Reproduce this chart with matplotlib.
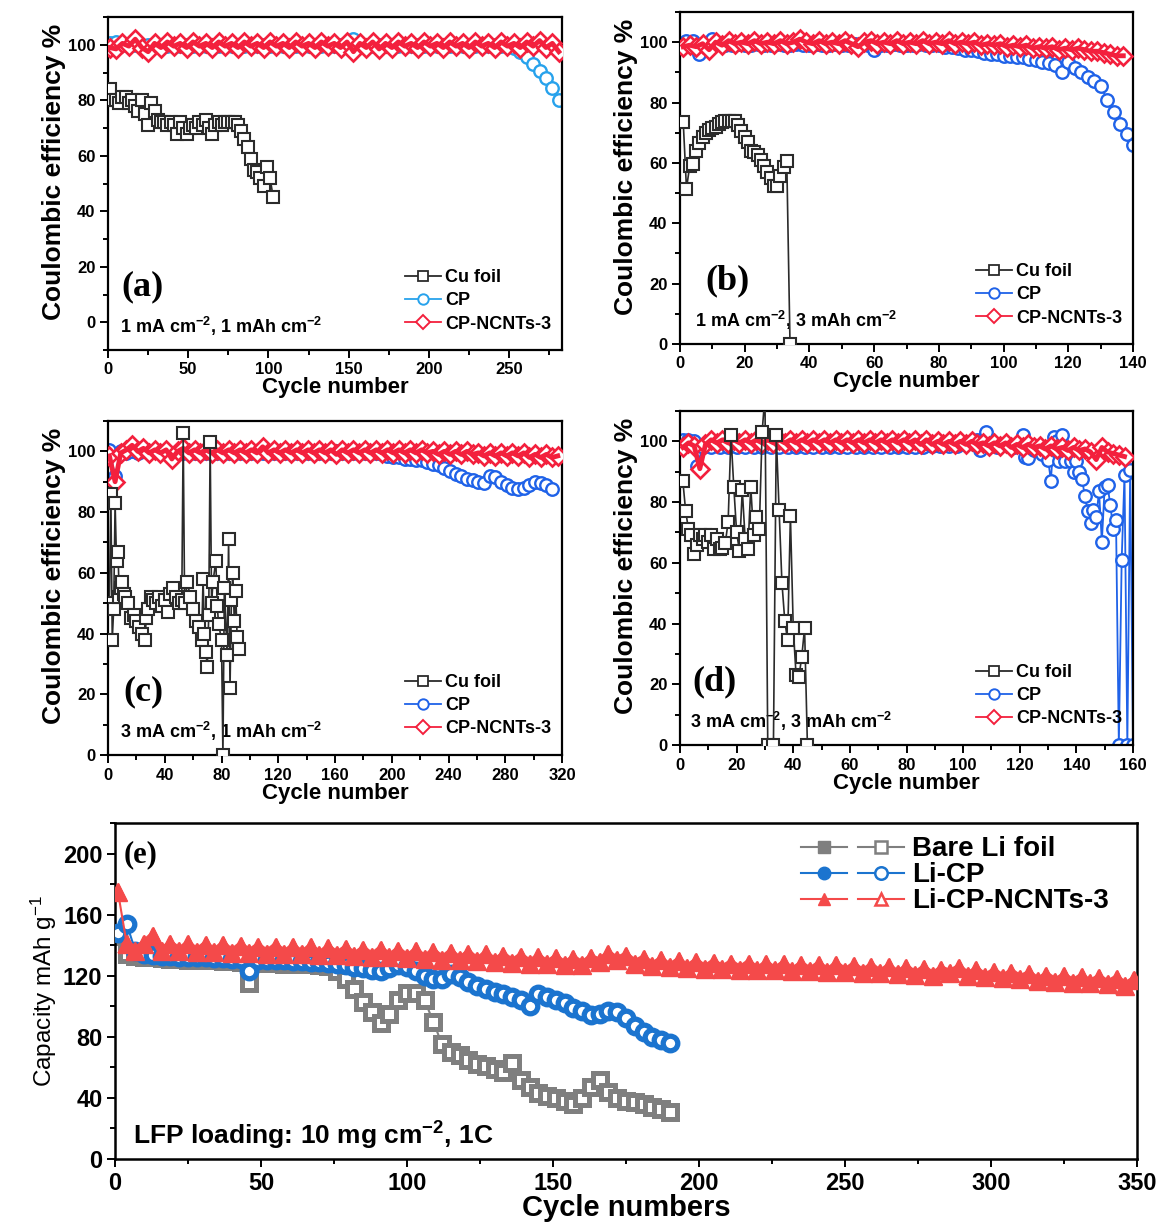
import matplotlib
matplotlib.use("Agg")
import matplotlib.pyplot as plt
import numpy as np
from matplotlib.lines import Line2D
from matplotlib.legend_handler import HandlerTuple
from matplotlib.ticker import MultipleLocator

plt.rcParams['font.family'] = ['Liberation Sans', 'DejaVu Sans']
plt.rcParams['font.weight'] = 'bold'
plt.rcParams['mathtext.fontset'] = 'custom'
plt.rcParams['mathtext.rm'] = 'Liberation Sans:bold'
plt.rcParams['mathtext.bf'] = 'Liberation Sans:bold'
plt.rcParams['mathtext.it'] = 'Liberation Sans:bold'
plt.rcParams['mathtext.default'] = 'regular'

# ---------------- (a) 1 mA cm-2, 1 mAh cm-2 ----------------
cu_a_x = np.arange(1, 104, 2)
cu_a = [84, 80, 80, 79, 81, 81, 79, 80, 78, 76, 80, 75, 71, 79, 76, 73, 72, 72, 71, 72,
        71, 68, 72, 70, 68, 70, 71, 70, 72, 71, 73, 70, 68, 71, 72, 71, 72, 72, 72, 72,
        71, 69, 66, 63, 59, 55, 54, 52, 49, 56, 52, 45]
cp_a_x = np.arange(1, 282, 4)
cp_a = [100.5, 101, 100, 99.5, 100, 99.5, 100, 99.5, 100, 99.5,
        100, 99.5, 100, 99.5, 100, 99.5, 100, 99.5, 100, 99.5,
        100, 99.5, 100, 99.5, 100, 99.5, 100, 99.5, 100, 99.5,
        100, 99.5, 100, 99.5, 100, 99.5, 100, 99.5, 102, 99.5,
        100, 99.5, 100, 99.5, 100, 99.5, 100, 99.5, 100, 99.5,
        100, 99.5, 100, 99.5, 100, 99.5, 100, 99.5, 100, 99.5,
        100, 99.5, 100, 99, 97.5, 95.5, 93, 90.5, 88, 84.5, 80]
nc_a_x = np.arange(1, 282, 4)
nc_a = [99, 98.5, 100.5, 99.5, 102, 99, 97.5, 100.5, 99, 101,
        99.5, 100.5, 99, 101, 99.5, 100.5, 99, 101, 99.5, 100.5,
        99, 101, 99.5, 100.5, 99, 101, 99.5, 100.5, 99, 101,
        99.5, 100.5, 99, 101, 99.5, 100.5, 99, 101, 97.5, 100.5,
        99, 101, 98.5, 100.5, 99, 101, 99.5, 100.5, 99, 101,
        99.5, 100.5, 99, 101, 99.5, 100.5, 99, 101, 99.5, 100.5,
        99, 101, 99.5, 100.5, 99, 101, 99.5, 101.5, 99, 100.5, 97.5]

# ---------------- (b) 1 mA cm-2, 3 mAh cm-2 ----------------
cu_b_x = np.arange(1, 35)
cu_b = [73.5, 51.5, 59, 59.5, 64, 66.5, 68.5, 70, 71, 71.5,
        72, 73, 73.5, 74, 74, 74, 74, 72.5, 70.5, 68.5,
        67, 64, 63.5, 62.5, 61, 59, 57, 55, 52.5, 52.5,
        55.5, 58.5, 60.5, 0]
cp_b_x = np.arange(2, 141, 2)
cp_b = [100.5, 100.5, 96, 99, 101, 99.5, 99, 99, 99.5, 99,
        99, 99.5, 99, 99, 99.5, 99, 99, 99.5, 99, 99,
        99.5, 99, 99, 99.5, 99, 99, 99.5, 99, 99, 97.5,
        99, 99, 99.5, 99, 99, 99, 99.5, 99, 99, 99,
        98.5, 98.5, 98, 97.5, 97.5, 97, 96.5, 96, 96, 95.5,
        95.5, 95, 95, 94.5, 94, 93.5, 93, 92.5, 90, 93.5,
        91.5, 90, 88.5, 87, 85.5, 81, 77, 73, 69.5, 66]
nc_b_x = np.arange(1, 138, 2)
nc_b = [98.5, 99, 98.5, 99.5, 97.5, 100, 99, 100.5, 99.5, 100,
        99.5, 100.5, 99.5, 100, 99.5, 100.5, 99.5, 100, 101, 100,
        99.5, 100.5, 99.5, 100, 99.5, 100.5, 99.5, 98.5, 100, 100.5,
        99.5, 100, 99.5, 100.5, 99.5, 100, 99.5, 100.5, 99.5, 100,
        99.5, 100.5, 99.5, 100, 99.5, 100, 99, 99.5, 99, 99.5,
        98.5, 99, 98.5, 99, 98, 98.5, 98, 98.5, 97.5, 98,
        97.5, 98, 97.5, 97, 97, 96.5, 96, 95.5, 95.5]

# ---------------- (c) 3 mA cm-2, 1 mAh cm-2 ----------------
cu_c_x = [1, 2, 3, 4, 5, 6, 7, 8, 9, 10, 11, 12, 14, 16, 18, 20, 22, 24, 26, 27,
          28, 30, 32, 34, 36, 38, 40, 42, 44, 46, 48, 50, 52, 53, 54, 56, 58, 60, 62, 64,
          66, 67, 68, 69, 70, 71, 72, 73, 74, 76, 77, 78, 80, 81, 82, 84, 85, 86, 87, 88,
          89, 90, 91, 92]
cu_c = [50, 86, 38, 48, 83, 64, 67, 52, 55, 57, 53, 52, 50, 45, 46, 44, 42, 40, 38, 45,
        48, 52, 51, 50, 52, 49, 51, 47, 53, 55, 52, 50, 51, 106, 50, 57, 52, 48, 44, 42,
        38, 58, 40, 34, 29, 46, 103, 50, 57, 64, 49, 43, 38, 0, 55, 33, 71, 22, 51, 60,
        44, 54, 39, 35]
cp_c_x = np.arange(1, 314, 4)
cp_c = [100.5, 92, 100, 99.5, 100, 99.5, 100, 99.5, 100, 99.5,
        100, 99.5, 100, 99.5, 100, 99.5, 100, 99.5, 100, 99.5,
        100, 99.5, 100, 99.5, 100, 99.5, 100, 99.5, 100, 99.5,
        100, 99.5, 100, 99.5, 100, 99.5, 100, 99.5, 100, 99.5,
        100, 99.5, 100, 99.5, 100, 99.5, 100, 99.5,
        99, 98.5, 98, 98, 97.5, 97.5, 97, 97, 96.5, 96, 95.5, 94.5, 93.5, 92.5, 92, 91,
        90.5, 90, 89.5, 92, 91.5, 90, 89, 88, 87.5, 88, 89, 90, 89.5, 89, 87.5]
nc_c_x = np.arange(1, 318, 4)
nc_c = [98.5, 90, 99.5, 100.5, 102, 100, 101, 99.5, 100.5, 99.5,
        100.5, 97.5, 100, 101, 99.5, 100.5, 99.5, 100.5, 99.5, 100.5,
        99.5, 100.5, 99.5, 100.5, 99.5, 100.5, 99.5, 101.5, 99.5, 100.5,
        99.5, 100.5, 99.5, 100.5, 99.5, 100.5, 99.5, 100.5, 99.5, 100.5,
        99, 100.5, 99.5, 100.5, 99.5, 100.5, 99.5, 100.5, 99.5, 100.5,
        99.5, 100.5, 99.5, 100.5, 99.5, 100.5, 99.5, 100, 99, 100,
        99, 100, 99, 100, 99, 99.5, 98.5, 99.5, 98.5, 99.5,
        98.5, 99.5, 98.5, 99.5, 98, 99, 98, 99, 98, 98.5]

# ---------------- (d) 3 mA cm-2, 3 mAh cm-2 ----------------
cu_d_x = [1, 2, 3, 4, 5, 6, 7, 8, 9, 10, 11, 12, 13, 14, 15, 16, 17, 18, 19, 20,
          21, 22, 23, 24, 25, 26, 27, 28, 29, 30, 31, 33, 34, 35, 36, 37, 38, 39, 40, 41,
          42, 43, 44, 45]
cu_d = [87, 77, 71, 69, 63, 66, 69, 68, 69, 67, 69, 64.5, 68, 64.5, 65, 66.5, 73.5, 102, 85, 70,
        64, 84, 68, 64.5, 85, 69, 75, 71, 103, 115, 0, 0, 102, 77.5, 53.5, 41, 34.5, 75.5, 38.5, 23,
        22.5, 29, 38.5, 0]
cp_d_x = [1, 3, 5, 6, 8, 11, 14, 17, 20, 23,
          26, 29, 32, 35, 38, 41, 44, 47, 50, 53,
          56, 59, 62, 65, 68, 71, 74, 77, 80, 83,
          86, 89, 92, 95, 98, 101, 104, 105, 106, 108,
          110, 112, 115, 118, 121, 122, 123, 125, 128, 130,
          131, 132, 133, 134, 135, 136, 138, 139, 140, 141,
          142, 143, 144, 145, 146, 147, 148, 149, 150, 151,
          152, 153, 154, 155, 156, 157, 158, 159, 160]
cp_d = [100.5, 100.5, 100, 92, 98, 98, 98, 98, 98, 98,
        98, 98, 98, 98, 98, 98, 98, 98, 98, 98,
        98, 98, 98, 98, 98, 98, 98, 98, 98, 98,
        98, 98.5, 98.5, 98.5, 98.5, 99, 99, 100.5, 97, 103,
        99, 98, 99, 98, 102, 95, 94.5, 97, 96, 94,
        87, 101.5, 100, 93.5, 102, 93.5, 93.5, 90, 93.5, 90,
        87.5, 82, 77, 73, 77.5, 75, 83.5, 67, 85, 85.5,
        79, 71, 74, 0, 61, 89, 0, 90.5, 0]
nc_d_x = np.arange(1, 158, 2)
nc_d = [98, 99.5, 98.5, 91, 99, 100.5, 99.5, 100.5, 99.5, 100.5,
        99.5, 100.5, 99.5, 100.5, 99.5, 100.5, 99.5, 100.5, 99.5, 100.5,
        99.5, 100.5, 99.5, 100.5, 99.5, 100.5, 99.5, 100.5, 99.5, 100.5,
        99.5, 100.5, 99.5, 100.5, 99.5, 100.5, 99.5, 100.5, 99.5, 100.5,
        99.5, 100.5, 99, 100.5, 99, 100, 99, 100, 99, 100,
        99, 100, 99, 99.5, 98.5, 99.5, 98.5, 99.5, 98, 99,
        98, 99, 98, 98.5, 97.5, 98.5, 97.5, 98, 97, 98,
        97, 97.5, 96.5, 94, 98, 96.5, 96, 95.5, 95]

# ---------------- (e) full cells, LFP 10 mg cm-2, 1C ----------------
bare_x = np.arange(1, 191, 3)
bare = [146, 134, 133, 132, 132, 131.5, 131, 131, 130.5, 130.5,
        130, 130, 129.5, 129.5, 129, 115, 129, 128.5, 128.5, 128,
        128, 127.5, 127.5, 127, 126.5, 123, 118, 111, 103, 96,
        89, 95, 104, 109, 109, 104, 90, 75, 70, 68,
        65, 62, 61, 59, 57, 63, 52, 47, 43, 41,
        40, 38, 36, 40, 47, 52, 44, 40, 38, 37,
        36, 34, 33, 31]
licp_x = np.arange(1, 191, 3)
licp = [148, 154, 136, 134, 133.5, 133, 133, 132.5, 132.5, 132,
        132, 131.5, 131.5, 131, 131, 123, 130.5, 130.5, 130, 130,
        129.5, 129.5, 129, 129, 128.5, 128, 127, 126, 125, 123.5,
        123, 125, 127, 126, 123, 120, 118, 118, 121, 119,
        116, 113, 111, 109.5, 108, 106, 104, 100, 108, 106,
        104, 102, 99, 97, 94.5, 95, 97, 96, 92, 87,
        83, 80, 78, 76]
ncnt_x = np.arange(1, 350, 3)
ncnt = [175, 141, 136, 141, 146, 136, 140.5, 136, 140.5, 135.5,
        140, 135.5, 140, 135, 139.5, 135, 139, 134.5, 139, 134.5,
        138.5, 134, 138.5, 133.5, 138, 133.5, 137.5, 133, 137, 132.5,
        137, 132, 136.5, 131.5, 136, 131, 135.5, 130.5, 135, 130,
        134.5, 129.5, 134, 129, 133, 128.5, 132.5, 128, 132, 127.5,
        131.5, 127, 131, 127, 131.5, 129, 134, 130, 133, 128,
        131, 126.5, 130, 125.5, 129.5, 125, 129, 124.5, 128.5, 124.5,
        128, 124, 128, 123.5, 127.5, 123.5, 127.5, 123, 127, 123,
        127, 122.5, 127, 122.5, 126.5, 122, 126, 121.5, 125.5, 121,
        125, 120.5, 124.5, 120, 124, 121.5, 125, 120, 123.5, 119,
        122.5, 118.5, 122, 118, 121, 116.5, 120, 116, 119.5, 115.5,
        119, 115, 118.5, 114.5, 118, 113.5, 117]

ce_labels = ["Cu foil", "CP", "CP-NCNTs-3"]
full_labels = ["Bare Li foil", "Li-CP", "Li-CP-NCNTs-3"]

CU = '#2b2b2b'
RED = '#f3203d'
BLUE_A = '#27a2ec'
BLUE = '#1f62e8'
E_GRAY = '#7f7f7f'
E_BLUE = '#1b74cf'
E_RED = '#f44a4a'

W, H = 1163, 1224
fig = plt.figure(figsize=(W / 100, H / 100), dpi=100)


def box(l, t, r, b):
    return [l / W, 1 - b / H, (r - l) / W, (b - t) / H]


def style(ax, lw=1.6, size=12):
    for s in ax.spines.values():
        s.set_linewidth(lw)
    ax.tick_params(which='both', direction='out', top=False, right=False, width=1.4)
    ax.tick_params(which='major', length=6, labelsize=size, pad=3)
    ax.tick_params(which='minor', length=3.5)
    for t in ax.get_xticklabels() + ax.get_yticklabels():
        t.set_fontweight('bold')


def ce_panel(rect, cu, cp, nc, xmax, ylo, xmaj, tag, cond, cp_color, cond_x):
    ax = fig.add_axes(rect)
    ax.plot(cp[0], cp[1], '-o', color=cp_color, mfc='white', ms=9, mew=1.7, lw=1.3, zorder=2)
    ax.plot(nc[0], nc[1], '-D', color=RED, mfc='white', ms=9, mew=1.9, lw=1.3, zorder=3)
    ax.plot(nc[0], nc[1], '-', color=RED, lw=3.5, zorder=3)
    ax.plot(cu[0], cu[1], '-s', color=CU, mfc='white', ms=8.5, mew=1.5, lw=1.2, zorder=4)
    ax.set_xlim(0, xmax)
    ax.set_ylim(ylo, 110)
    ax.xaxis.set_major_locator(MultipleLocator(xmaj))
    ax.xaxis.set_minor_locator(MultipleLocator(xmaj / 2))
    ax.yaxis.set_major_locator(MultipleLocator(20))
    ax.yaxis.set_minor_locator(MultipleLocator(10))
    ax.set_xlabel("Cycle number", fontsize=16, fontweight='bold', labelpad=0)
    ax.set_ylabel("Coulombic efficiency %", fontsize=19, fontweight='bold')
    ax.yaxis.set_label_coords(-0.093, 0.535)
    style(ax)
    ax.text(0.077 if cond_x < 0.03 else 0.105, 0.19, tag, transform=ax.transAxes,
            family='Liberation Serif', fontsize=26, fontweight='bold', ha='center', va='center')
    ax.text(cond_x, 0.07, cond, transform=ax.transAxes, fontsize=13,
            fontweight='bold', ha='left', va='center')
    handles = [Line2D([], [], color=CU, marker='s', mfc='white', ms=7.5, mew=1.3, lw=1.3),
               Line2D([], [], color=cp_color, marker='o', mfc='white', ms=7.5, mew=1.4, lw=1.3),
               Line2D([], [], color=RED, marker='D', mfc='white', ms=7, mew=1.4, lw=1.3)]
    ax.legend(handles, ce_labels, loc='lower right', bbox_to_anchor=(1.0, 0.02),
              frameon=False, fontsize=13, handlelength=2.0, handletextpad=0.2,
              labelspacing=0.35, borderaxespad=0.2)
    return ax


ce_panel(box(108, 17, 562, 350), (cu_a_x, cu_a), (cp_a_x, cp_a), (nc_a_x, nc_a), 283, -10, 50,
         "(a)", "1 mA cm$^{-2}$, 1 mAh cm$^{-2}$", BLUE_A, 0.026)
ce_panel(box(680, 12, 1133, 344), (cu_b_x, cu_b), (cp_b_x, cp_b), (nc_b_x, nc_b), 140, 0, 20,
         "(b)", "1 mA cm$^{-2}$, 3 mAh cm$^{-2}$", BLUE, 0.033)
ce_panel(box(108, 421, 562, 755), (cu_c_x, cu_c), (cp_c_x, cp_c), (nc_c_x, nc_c), 320, 0, 40,
         "(c)", "3 mA cm$^{-2}$, 1 mAh cm$^{-2}$", BLUE, 0.026)
ce_panel(box(680, 411, 1133, 745), (cu_d_x, cu_d), (cp_d_x, cp_d), (nc_d_x, nc_d), 160, 0, 20,
         "(d)", "3 mA cm$^{-2}$, 3 mAh cm$^{-2}$", BLUE, 0.022)

# ---------------- panel (e) ----------------
ax = fig.add_axes(box(115, 823, 1137, 1159))
ax.plot(bare_x, bare, '-s', color=E_GRAY, ms=10.5, lw=1.5, zorder=2)
ax.plot(bare_x, bare, 's', mec=E_GRAY, mfc='white', ms=9.5, mew=3.6, zorder=2)
ax.plot(licp_x, licp, '-o', color=E_BLUE, ms=11, lw=1.5, zorder=3)
ax.plot(licp_x, licp, 'o', mec=E_BLUE, mfc='white', ms=10.5, mew=3.8, zorder=3)
ax.plot(ncnt_x, ncnt, '^', mec=E_RED, mfc='white', ms=12, mew=1.5, zorder=4)
ax.plot(ncnt_x, ncnt, '-^', color=E_RED, ms=12.5, lw=1.5, zorder=4)
# thick trace after the first-cycle spike so the band reads as one solid ribbon
ax.plot(ncnt_x[1:], ncnt[1:], '-', color=E_RED, lw=6, zorder=4)
ax.set_xlim(0, 350)
ax.set_ylim(0, 220)
ax.xaxis.set_major_locator(MultipleLocator(50))
ax.xaxis.set_minor_locator(MultipleLocator(25))
ax.yaxis.set_major_locator(MultipleLocator(40))
ax.yaxis.set_minor_locator(MultipleLocator(20))
style(ax, lw=1.8, size=17)
ax.set_xlabel("Cycle numbers", fontsize=21, fontweight='bold', labelpad=0)
ax.set_ylabel("Capacity mAh g$^{-1}$", fontsize=17.5, fontweight='normal', labelpad=3)
ax.text(0.025, 0.905, "(e)", transform=ax.transAxes, family='Liberation Serif',
        fontsize=22, fontweight='bold', ha='center', va='center')
ax.text(0.018, 0.07, "LFP loading: 10 mg cm$^{-2}$, 1C", transform=ax.transAxes,
        fontsize=19, fontweight='bold', ha='left', va='center')

full_colors = [E_GRAY, E_BLUE, E_RED]
full_marks = ['s', 'o', '^']
handles = []
for c, m in zip(full_colors, full_marks):
    handles.append((Line2D([], [], color=c, marker=m, ms=9, lw=1.5),
                    Line2D([], [], color=c, marker=m, mfc='white', ms=9, mew=1.8, lw=1.5)))
ax.legend(handles, full_labels, handler_map={tuple: HandlerTuple(ndivide=None, pad=0.4)},
          loc='upper left', bbox_to_anchor=(0.655, 1.01), frameon=False, fontsize=20,
          handlelength=3.7, handletextpad=0.3, labelspacing=0.0, borderaxespad=0.2)

fig.savefig("out.png", dpi=100)
